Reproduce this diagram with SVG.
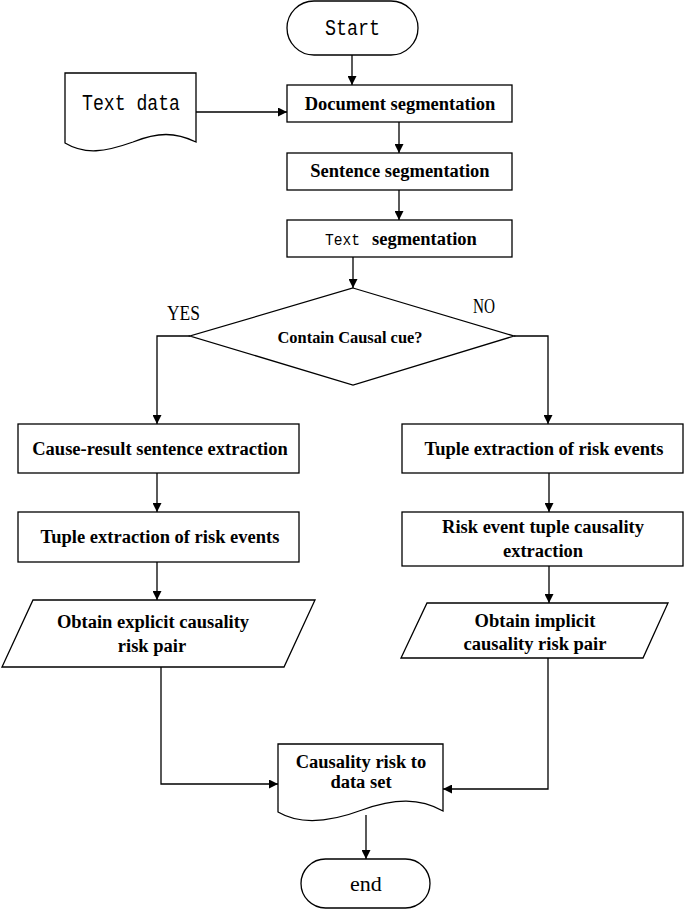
<svg xmlns="http://www.w3.org/2000/svg" width="685" height="910" viewBox="0 0 685 910">
<defs>
<style>
.shape{fill:#fff;stroke:#000;stroke-width:1.3}
.conn{fill:none;stroke:#000;stroke-width:1.3}
.b{font-family:"Liberation Serif","Times New Roman",serif;font-weight:bold;font-size:18.5px;text-anchor:middle;fill:#000}
.m{font-family:"Liberation Mono","Courier New",monospace;font-size:22px;fill:#000}
.r{font-family:"Liberation Serif","Times New Roman",serif;font-size:21px;fill:#000}
</style>
<marker id="ah" markerUnits="userSpaceOnUse" markerWidth="9" markerHeight="9" viewBox="0 0 10 10" refX="10" refY="5" orient="auto">
<path d="M0,0 L10,5 L0,10 z" fill="#000"/>
</marker>
</defs>
<rect width="685" height="910" fill="#fff"/>
<g id="connectors">
<path class="conn" marker-end="url(#ah)" d="M352,55 V85"/>
<path class="conn" marker-end="url(#ah)" d="M196,112 H287"/>
<path class="conn" marker-end="url(#ah)" d="M399,122 V153"/>
<path class="conn" marker-end="url(#ah)" d="M399,190 V220"/>
<path class="conn" marker-end="url(#ah)" d="M353,257 V288"/>
<path class="conn" marker-end="url(#ah)" d="M190,336 H157 V424"/>
<path class="conn" marker-end="url(#ah)" d="M514,336 H548 V424"/>
<path class="conn" marker-end="url(#ah)" d="M157,473 V512"/>
<path class="conn" marker-end="url(#ah)" d="M157,562 V600"/>
<path class="conn" marker-end="url(#ah)" d="M549,473 V512"/>
<path class="conn" marker-end="url(#ah)" d="M549,566 V603"/>
<path class="conn" marker-end="url(#ah)" d="M161,667 V784 H278"/>
<path class="conn" marker-end="url(#ah)" d="M548,658 V789 H443"/>
<path class="conn" marker-end="url(#ah)" d="M366,815 V859"/>
<text class="r" x="167" y="320" style="font-size:22px" textLength="33" lengthAdjust="spacingAndGlyphs">YES</text>
<text class="r" x="473" y="313" style="font-size:22px" textLength="22" lengthAdjust="spacingAndGlyphs">NO</text>
</g>
<g id="start">
<rect class="shape" x="287" y="1" width="131" height="54" rx="27"/>
<text class="m" x="325" y="35" textLength="55" lengthAdjust="spacingAndGlyphs">Start</text>
</g>
<g id="textdata">
<path class="shape" d="M65,73 H196 V142 C175,132 158,132 133,142 C105,152 85,155 65,143 Z"/>
<text class="m" x="82" y="110" textLength="98" lengthAdjust="spacingAndGlyphs">Text data</text>
</g>
<g id="docseg">
<rect class="shape" x="287" y="85" width="225" height="37"/>
<text class="b" x="400" y="110">Document segmentation</text>
</g>
<g id="sentseg">
<rect class="shape" x="287" y="153" width="225" height="37"/>
<text class="b" x="400" y="177">Sentence segmentation</text>
</g>
<g id="textseg">
<rect class="shape" x="287" y="220" width="225" height="37"/>
<text class="m" x="325" y="245" style="font-size:17px" textLength="35" lengthAdjust="spacingAndGlyphs">Text</text>
<text class="b" x="372" y="245" style="text-anchor:start">segmentation</text>
</g>
<g id="decision">
<polygon class="shape" points="353,288 514,336 353,385 190,336"/>
<text class="b" x="350" y="343" style="font-size:17.5px" textLength="145" lengthAdjust="spacingAndGlyphs">Contain Causal cue?</text>
</g>
<g id="causeresult">
<rect class="shape" x="18" y="424" width="281" height="49"/>
<text class="b" x="160" y="455">Cause-result sentence extraction</text>
</g>
<g id="tupleleft">
<rect class="shape" x="18" y="512" width="281" height="50"/>
<text class="b" x="160" y="543">Tuple extraction of risk events</text>
</g>
<g id="explicit">
<polygon class="shape" points="33,600 315,600 284,667 2,667"/>
<text class="b" x="153" y="628">Obtain explicit causality</text>
<text class="b" x="152" y="652">risk pair</text>
</g>
<g id="tupleright">
<rect class="shape" x="402" y="424" width="281" height="49"/>
<text class="b" x="544" y="455">Tuple extraction of risk events</text>
</g>
<g id="riskevent">
<rect class="shape" x="402" y="512" width="281" height="54"/>
<text class="b" x="543" y="533">Risk event tuple causality</text>
<text class="b" x="543" y="557">extraction</text>
</g>
<g id="implicit">
<polygon class="shape" points="427,603 668,603 643,658 401,658"/>
<text class="b" x="535" y="627">Obtain implicit</text>
<text class="b" x="535" y="650">causality risk pair</text>
</g>
<g id="dataset">
<path class="shape" d="M278,744 H443 V811 C420,798 395,798 362,810 C330,822 300,825 278,812 Z"/>
<text class="b" x="361" y="768">Causality risk to</text>
<text class="b" x="361" y="788">data set</text>
</g>
<g id="end">
<rect class="shape" x="301" y="859" width="129" height="49" rx="24.5"/>
<text class="r" x="366" y="891" style="font-size:22px;text-anchor:middle">end</text>
</g>
</svg>
